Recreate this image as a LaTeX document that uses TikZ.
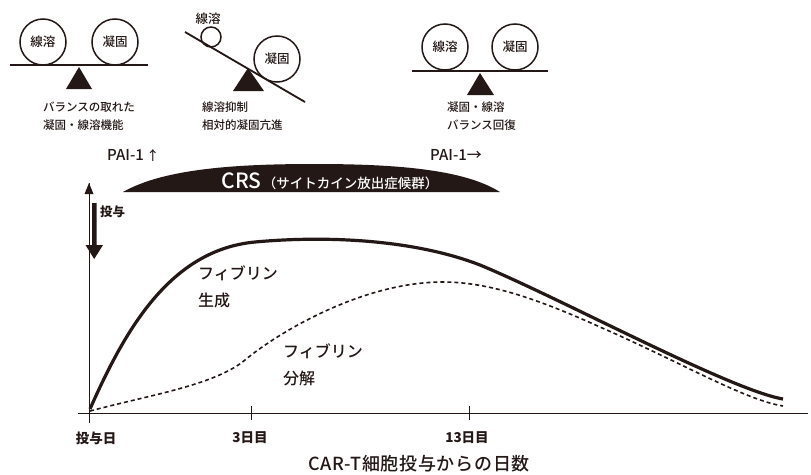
\documentclass[tikz,border=0pt]{standalone}
\usepackage{fontspec}
\setmainfont{Noto Sans CJK JP}
\newfontfamily\medfont{Noto Sans CJK JP Medium}
\usetikzlibrary{arrows.meta}
\definecolor{ink}{HTML}{231815}
\begin{document}
\begin{tikzpicture}[x=1pt,y=-1pt,
  ball/.style={circle, draw=ink, line width=1.5pt, minimum size=46pt, inner sep=0pt, font=\medfont\fontsize{12.5}{14}\selectfont, text=ink},
  smallball/.style={circle, draw=ink, line width=1.5pt, minimum size=20pt, inner sep=0pt},
  beam/.style={draw=ink, line width=1.8pt},
  fulcrum/.style={fill=ink},
  captxt/.style={font=\medfont\fontsize{11.5}{18}\selectfont, text=ink, align=left, inner sep=0pt},
  pai/.style={font=\medfont\fontsize{15}{16}\selectfont, text=ink, inner sep=0pt},
  ticklbl/.style={font=\fontsize{13.5}{15}\selectfont\bfseries, text=ink, inner sep=0pt},
  curvelbl/.style={font=\medfont\fontsize{16}{27}\selectfont, text=ink, align=left, inner sep=0pt},
  axisline/.style={draw=ink, line width=0.8pt}
]
\useasboundingbox (0,0) rectangle (811,474);

% ---------- balance 1 ----------
\coordinate (b1l) at (10,65);
\coordinate (b1r) at (148,65);
\draw[beam] (b1l) -- (b1r);
\node[ball] (c1a) at (43,42) {線溶};
\node[ball] (c1b) at (115,42) {凝固};
\path[fulcrum] (79,67) -- (92,89) -- (66,89) -- cycle;
\node[captxt, anchor=north west] (t1) at (43,102) {バランスの取れた\\凝固・線溶機能};

% ---------- balance 2 ----------
\coordinate (b2l) at (185,32);
\coordinate (b2r) at (305,102);
\draw[beam] (b2l) -- (b2r);
\node[smallball] (c2a) at (211,37) {};
\node[font=\medfont\fontsize{12.5}{14}\selectfont, text=ink, inner sep=0pt] (l2a) at (208,19) {線溶};
\node[ball] (c2b) at (277,59) {凝固};
\path[fulcrum] (248,68) -- (264,91) -- (233,91) -- cycle;
\node[captxt, anchor=north west] (t2) at (202,102) {線溶抑制\\相対的凝固亢進};

% ---------- balance 3 ----------
\coordinate (b3l) at (412,71);
\coordinate (b3r) at (548,71);
\draw[beam] (b3l) -- (b3r);
\node[ball] (c3a) at (445,47) {線溶};
\node[ball] (c3b) at (515,47) {凝固};
\path[fulcrum] (480,73) -- (494,95) -- (467,95) -- cycle;
\node[captxt, anchor=north west] (t3) at (447,102) {凝固・線溶\\バランス回復};

% ---------- PAI-1 ----------
\node[pai, anchor=west] (p1) at (107,155) {PAI-1\,{\fontsize{13}{14}\selectfont ↑}};
\node[pai, anchor=west] (p2) at (430,155) {PAI-1→};

% ---------- CRS dome ----------
\fill[ink] (123,192) .. controls (165,168) and (240,164) .. (315,164)
  .. controls (400,164) and (465,170) .. (500,192) -- cycle;
\node[text=white, inner sep=0pt, font=\medfont] (crs) at (330,181)
  {{\fontsize{21}{22}\selectfont CRS}\,{\fontsize{13.5}{15}\selectfont （サイトカイン放出症候群）}};

% ---------- axes ----------
\coordinate (o) at (89,413);
\coordinate (ytop) at (89,183);
\coordinate (ybot) at (89,423);
\coordinate (xl) at (78,413);
\coordinate (xr) at (808,413);
\draw[axisline] (ybot) -- (ytop);
\path[fill=ink] (ytop) -- (93.5,194) -- (84.5,194) -- cycle;
\draw[axisline] (xl) -- (xr);
\draw[axisline] (251,406) -- (251,420);
\draw[axisline] (469,406) -- (469,420);

% ---------- dosing arrow ----------
\path[fill=ink] (92,203) -- (96.5,203) -- (96.5,245) -- (103,245) -- (94.2,259) -- (85.5,245) -- (92,245) -- cycle;
\node[font=\fontsize{12.5}{14}\selectfont\bfseries, text=ink, anchor=west, inner sep=0pt] (dose) at (100,212) {投与};

% ---------- tick labels ----------
\node[ticklbl] (d0) at (96,438) {投与日};
\node[ticklbl] (d3) at (250,438) {3日目};
\node[ticklbl] (d13) at (467,438) {13日目};
\node[font=\medfont\fontsize{18}{19}\selectfont\addfontfeatures{LetterSpace=4}, text=ink, inner sep=0pt] (xt) at (419,464) {CAR-T細胞投与からの日数};

% ---------- curves ----------
\draw[ink, line width=3.2pt]
  (90,409) .. controls (125,330) and (170,250) .. (255,242)
  .. controls (320,236) and (410,238) .. (480,265)
  .. controls (560,298) and (730,390) .. (783,399);
\draw[ink, line width=1.6pt, dash pattern=on 4pt off 3pt]
  (90,411) .. controls (150,395) and (215,385) .. (245,360)
  .. controls (275,335) and (360,282) .. (443,282)
  .. controls (490,282) and (540,300) .. (600,327)
  .. controls (680,362) and (745,400) .. (783,406);

% ---------- curve labels ----------
\node[curvelbl, anchor=north west] (fg) at (198,266) {フィブリン\\生成};
\node[curvelbl, anchor=north west] (fd) at (283,344) {フィブリン\\分解};
\end{tikzpicture}
\end{document}
